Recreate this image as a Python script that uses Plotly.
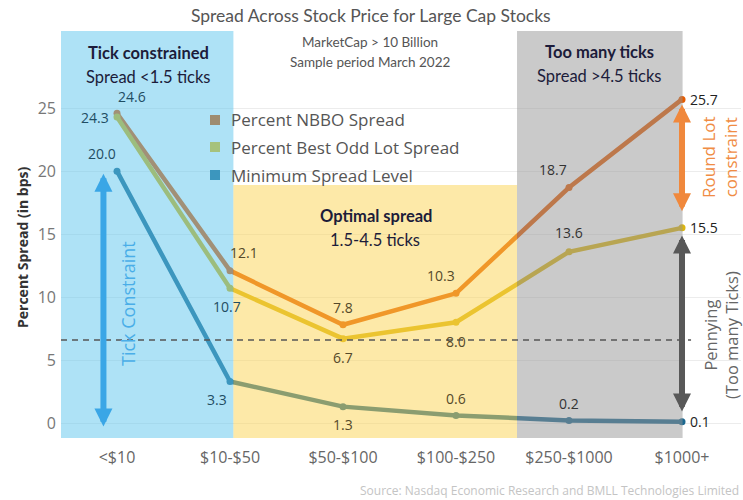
import plotly.graph_objects as go

# ---------------- data ----------------
categories = ["<$10", "$10-$50", "$50-$100", "$100-$250", "$250-$1000", "$1000+"]
nbbo = [24.6, 12.1, 7.8, 10.3, 18.7, 25.7]
odd_lot = [24.3, 10.7, 6.7, 8.0, 13.6, 15.5]
min_spread = [20.0, 3.3, 1.3, 0.6, 0.2, 0.1]
series_names = ["Percent NBBO Spread", "Percent Best Odd Lot Spread", "Minimum Spread Level"]
y_ticks = [0, 5, 10, 15, 20, 25]
dash_level = 6.6

# ---------------- layout geometry (screen pixels) ----------------
W, H = 743, 500
PL, PR, PT, PB = 61, 741, 31, 438   # plot area on screen
X_RANGE = [-0.4956, 5.522]
Y_RANGE = [-1.19, 31.13]

def px_x(px):
    return (px - PL) / (PR - PL)

def px_y(py):
    return (PB - py) / (PB - PT)

# base (under-overlay) line colours; overlays blend them per region
base_colors = ["rgb(229,91,0)", "rgb(219,181,15)", "rgb(27,103,143)"]
legend_colors = ["rgb(158,140,112)", "rgb(166,194,124)", "rgb(60,150,190)"]

fig = go.Figure()
x_idx = list(range(len(categories)))
for vals, name, col in zip([nbbo, odd_lot, min_spread], series_names, base_colors):
    fig.add_trace(go.Scatter(
        x=x_idx, y=vals, mode="lines+markers", name=name,
        line=dict(color=col, width=4.5), marker=dict(color=col, size=7),
        showlegend=False, hoverinfo="skip"))

# ---------------- region overlays (semi transparent, above lines) ----------------
shapes = []
shapes.append(dict(type="rect", xref="x", yref="y", x0=X_RANGE[0], x1=1.03, y0=Y_RANGE[0], y1=Y_RANGE[1],
                   fillcolor="rgb(93,197,237)", opacity=0.5, line=dict(width=0), layer="above"))
shapes.append(dict(type="rect", xref="x", yref="y", x0=1.03, x1=3.54, y0=Y_RANGE[0], y1=18.9,
                   fillcolor="rgb(251,211,81)", opacity=0.5, line=dict(width=0), layer="above"))
shapes.append(dict(type="rect", xref="x", yref="y", x0=3.54, x1=5.005, y0=Y_RANGE[0], y1=Y_RANGE[1],
                   fillcolor="rgb(150,150,150)", opacity=0.5, line=dict(width=0), layer="above"))
shapes.append(dict(type="line", xref="x", yref="y", x0=X_RANGE[0], x1=5.08, y0=dash_level, y1=dash_level,
                   line=dict(color="#555555", width=1.5, dash="6px,5px"), layer="above"))

# legend squares
legend_y = [120, 147, 175]
for col, py in zip(legend_colors, legend_y):
    shapes.append(dict(type="rect", xref="paper", yref="paper", xsizemode="pixel", ysizemode="pixel",
                       xanchor=px_x(215), yanchor=px_y(py), x0=-5, x1=5, y0=-5, y1=5,
                       fillcolor=col, line=dict(width=0), layer="above"))

annotations = []
# legend text
for name, py in zip(series_names, legend_y):
    annotations.append(dict(xref="paper", yref="paper", x=px_x(229), y=px_y(py), text=name,
                            showarrow=False, xanchor="left", yanchor="middle",
                            font=dict(family="Open Sans", size=17, color="#555555")))

# data labels: offsets in pixels (dx, dy, anchor)
label_offsets = {
    0: [(15, -17, "center"), (14, -18, "center"), (0, -17, "center"), (-15, -18, "center"), (-16, -18, "center"), (6, 0, "left")],
    1: [(-6, 0, "right"), (-3, 18, "center"), (0, 19, "center"), (0, 19, "center"), (0, -19, "center"), (6, 0, "left")],
    2: [(-15, -18, "center"), (-13, 18, "center"), (0, 18, "center"), (0, -17, "center"), (0, -17, "center"), (6, 0, "left")],
}

def label_color(xi, dx):
    pos = xi + dx / 113.0
    if pos < 1.03:
        return "#1f4d63"
    if pos < 3.54:
        return "#55492a"
    if pos < 5.0:
        return "#333333"
    return "#222222"

for s, vals in enumerate([nbbo, odd_lot, min_spread]):
    for i, v in enumerate(vals):
        dx, dy, anc = label_offsets[s][i]
        annotations.append(dict(x=i, y=v, xref="x", yref="y", text=f"{v:.1f}", showarrow=False,
                                xshift=dx, yshift=-dy, xanchor=anc, yanchor="middle",
                                font=dict(family="Open Sans", size=14, color=label_color(i, dx))))

# arrows
def arrow(x, y0, y1, color):
    return dict(x=x, y=y1, ax=x, ay=y0, xref="x", yref="y", axref="x", ayref="y", text="",
                showarrow=True, arrowhead=2, arrowside="end+start", arrowsize=0.6,
                arrowwidth=6, arrowcolor=color, standoff=0, startstandoff=0)

annotations.append(arrow(-0.12, -0.4, 19.8, "#3aa6e6"))
annotations.append(arrow(5.0, 16.7, 25.3, "#f0883c"))
annotations.append(arrow(5.0, 0.8, 14.9, "#585858"))

def note(px, py, text, size, color, family="Open Sans", angle=0, xanchor="center"):
    return dict(xref="paper", yref="paper", x=px_x(px), y=px_y(py), text=text, textangle=angle,
                showarrow=False, xanchor=xanchor, yanchor="middle",
                font=dict(family=family, size=size, color=color))

# rotated notes
annotations.append(note(128, 304, "Tick Constraint", 18, "#4aaee8", angle=-90))
annotations.append(note(719, 157, "Round Lot<br>constraint", 17, "#f08c44", angle=-90))
annotations.append(note(721, 335, "Pennying<br>(Too many Ticks)", 16.5, "#666666", angle=-90))

# region captions
navy = "#1c1c3a"
annotations += [
    note(148, 53, "<b>Tick constrained</b>", 16.5, navy, "Lato"),
    note(148, 77, "Spread <1.5 ticks", 16.5, navy, "Lato"),
    note(599, 52, "<b>Too many ticks</b>", 16.5, navy, "Lato"),
    note(599, 76, "Spread >4.5 ticks", 16.5, navy, "Lato"),
    note(376, 216, "<b>Optimal spread</b>", 16.5, navy, "Lato"),
    note(375, 240, "1.5-4.5 ticks", 16.5, navy, "Lato"),
    note(370, 42, "MarketCap > 10 Billion", 13.5, "#555555", "Lato"),
    note(370, 62, "Sample period March 2022", 13.5, "#555555", "Lato"),
    note(371, 16, "Spread Across Stock Price for Large Cap Stocks", 17.5, "#555555", "Lato"),
    note(22, 248, "<b>Percent Spread (in bps)</b>", 14, "#333333", angle=-90),
    note(741, 490, "Source: Nasdaq Economic Research and BMLL Technologies Limited", 12, "#c4c4c4", xanchor="right"),
]

fig.update_layout(
    width=W, height=H,
    margin=dict(l=PL, r=W - PR, t=PT, b=H - PB),
    paper_bgcolor="white", plot_bgcolor="white",
    showlegend=False,
    shapes=shapes, annotations=annotations,
    xaxis=dict(range=X_RANGE, tickmode="array", tickvals=x_idx, ticktext=categories,
               showgrid=False, zeroline=False, showline=False, ticks="",
               tickfont=dict(family="Open Sans", size=16, color="#666666"), ticklabelstandoff=8),
    yaxis=dict(range=Y_RANGE, tickmode="array", tickvals=y_ticks, showgrid=True, gridcolor="#ececec",
               gridwidth=1, zeroline=False, showline=False, ticks="",
               tickfont=dict(family="Open Sans", size=16, color="#777777"), ticklabelstandoff=4),
)

fig.write_html("out.html", config={"displayModeBar": False},
               post_script="document.body.style.margin='0';document.body.style.overflow='hidden';")
